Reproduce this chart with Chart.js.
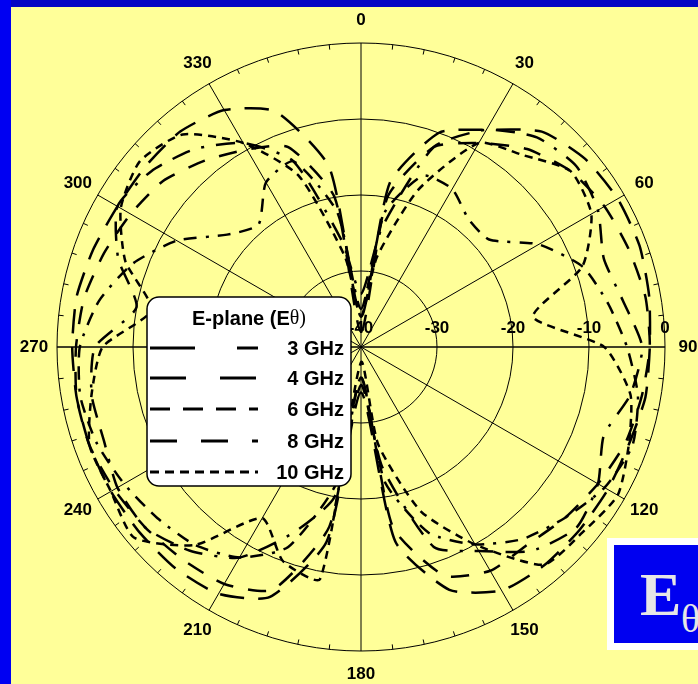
<!DOCTYPE html>
<html>
<head>
<meta charset="utf-8">
<script src="https://cdn.jsdelivr.net/npm/chart.js"></script>
<style>
  html, body { margin: 0; padding: 0; }
  body { width: 698px; height: 684px; background: #ffff99; position: relative; overflow: hidden; }
  #wrap { position: absolute; left: 0; top: 0; width: 698px; height: 684px; }
  #topBar { position: absolute; left: 0; top: 0; width: 698px; height: 7px; background: #0606c4; }
  #leftBar { position: absolute; left: 0; top: 0; width: 11px; height: 684px; background: #0000f2; }
  #tag { position: absolute; left: 607px; top: 538px; width: 100px; height: 112px; background: #fff; }
  #tagIn { position: absolute; left: 7px; top: 7px; width: 100px; height: 98px; background: #0000f0; }
  #tagE { position: absolute; left: 26px; top: 14px; font: bold 62px "Liberation Serif", serif; color: #e6e6e6; }
  #tagT { position: absolute; left: 67px; top: 50px; font: 40px "Liberation Serif", serif; color: #e6e6e6; }
</style>
</head>
<body>
<div id="wrap"><canvas id="polarE"></canvas></div>
<div id="topBar"></div>
<div id="leftBar"></div>
<div id="tag"><div id="tagIn"><span id="tagE">E</span><span id="tagT">θ</span></div></div>
<script>
let polarE = document.getElementById("polarE");

// theta in degrees, clockwise from the top
const angles = [0, 10, 20, 30, 40, 50, 60, 70, 80, 90, 100, 110, 120, 130, 140, 150, 160, 170,
                180, 190, 200, 210, 220, 230, 240, 250, 260, 270, 280, 290, 300, 310, 320, 330, 340, 350];
const radialTicks = [-40, -30, -20, -10, 0];
const angleTicks = [0, 30, 60, 90, 120, 150, 180, 210, 240, 270, 300, 330];

// relative gain (dB)
const ghz3 = [-36, -18, -10, -7, -3, -1.5, -1, -1, -1.5, -2, -2, -2.5, -2.5, -2.5, -2.5, -3, -6, -14,
              -34, -14, -5, -2.5, -2, -2, -2, -2, -2, -2, -2, -2.5, -3, -3, -3, -4, -7, -16];
const ghz4 = [-38, -20, -12, -9, -6, -4, -3, -2.5, -2, -2, -2.5, -3, -4, -5, -6, -6, -8, -16,
              -36, -16, -6, -4, -3.5, -3, -2.5, -2, -2, -2.5, -3, -4, -5, -6, -8, -10, -12, -20];
const ghz6 = [-35, -22, -16, -16, -18, -18, -13, -9, -7, -5, -3, -2, -3, -5, -7, -10, -14, -22,
              -36, -22, -12, -8, -6, -5, -4, -3, -2.5, -3, -5, -8, -12, -17, -19, -15, -14, -22];
const ghz8 = [-33, -24, -12, -7, -4, -3, -4, -6, -5, -3, -4, -6, -4, -3, -5, -9, -12, -24,
              -35, -20, -14, -8, -5, -3, -3, -4, -4, -5, -10, -6, -3, -4, -6, -9, -14, -26];
const ghz10 = [-36, -28, -18, -9, -7, -4, -5, -9, -17, -8, -4, -2.5, -1, -2, -2.6, -10, -17, -27,
               -38, -9, -10, -14, -6, -1, -2, -2, -4, -6, -12, -7, -3.5, -2, -3.5, -9, -16, -28];

const seriesNames = ['3 GHz', '4 GHz', '6 GHz', '8 GHz', '10 GHz'];

const dataPolar = {
  labels: angles,
  datasets: [
    { label: seriesNames[0], data: ghz3, borderDash: [24, 14] },
    { label: seriesNames[1], data: ghz4, borderDash: [18, 15] },
    { label: seriesNames[2], data: ghz6, borderDash: [13, 9, 13, 9, 3, 9] },
    { label: seriesNames[3], data: ghz8, borderDash: [19, 12, 19, 12, 3, 12] },
    { label: seriesNames[4], data: ghz10, borderDash: [8, 6] },
  ].map(d => Object.assign(d, {
    borderColor: '#000',
    borderWidth: 2.5,
    pointRadius: 0,
    fill: false,
    tension: 0.2,
  }))
};

// dash patterns of the samples in the key box
const legendDash = [[45, 42], [36, 34], [20, 13], [27, 24], [9, 6]];

const polarDecor = {
  id: 'polarDecor',
  beforeDatasetsDraw(chart) {
    const s = chart.scales.r;
    const ctx = chart.ctx;
    ctx.save();
    ctx.strokeStyle = '#000';
    ctx.lineWidth = 1;
    // small ticks on the outer circle every 6 degrees
    for (let a = 0; a < 360; a += 6) {
      if (a % 30 === 0) continue;
      const t = (a - 90) * Math.PI / 180;
      const r0 = s.drawingArea, r1 = s.drawingArea - 5;
      ctx.beginPath();
      ctx.moveTo(s.xCenter + r0 * Math.cos(t), s.yCenter + r0 * Math.sin(t));
      ctx.lineTo(s.xCenter + r1 * Math.cos(t), s.yCenter + r1 * Math.sin(t));
      ctx.stroke();
    }
    // horizontal axis line through 90 / 270
    ctx.beginPath();
    ctx.moveTo(s.xCenter - s.drawingArea, s.yCenter);
    ctx.lineTo(s.xCenter + s.drawingArea, s.yCenter);
    ctx.stroke();
    ctx.restore();
  },
  afterDraw(chart) {
    const s = chart.scales.r;
    const ctx = chart.ctx;
    ctx.save();
    ctx.fillStyle = '#000';
    ctx.textAlign = 'center';
    ctx.textBaseline = 'middle';
    ctx.font = 'bold 17px "Liberation Sans", Arial, sans-serif';
    angleTicks.forEach(a => {
      const p = s.getPointPosition(angles.indexOf(a), s.drawingArea + 23);
      ctx.fillText(String(a), p.x, p.y);
    });
    radialTicks.forEach(v => {
      ctx.fillText(String(v), s.xCenter + s.getDistanceFromCenterForValue(v), s.yCenter - 19);
    });

    // key box
    const bx = 147, by = 297, bw = 204, bh = 189;
    ctx.beginPath();
    ctx.roundRect(bx, by, bw, bh, 12);
    ctx.fillStyle = '#fff';
    ctx.fill();
    ctx.lineWidth = 1.5;
    ctx.strokeStyle = '#000';
    ctx.stroke();

    ctx.fillStyle = '#000';
    ctx.textBaseline = 'middle';
    ctx.textAlign = 'left';
    ctx.font = 'bold 20px "Liberation Sans", Arial, sans-serif';
    const t1 = 'E-plane (E';
    ctx.font = '20px "Liberation Serif", serif';
    const t2 = 'θ)';
    const w2 = ctx.measureText(t2).width;
    ctx.font = 'bold 20px "Liberation Sans", Arial, sans-serif';
    const w1 = ctx.measureText(t1).width;
    const tx = bx + bw / 2 - (w1 + w2) / 2;
    ctx.fillText(t1, tx, 319);
    ctx.font = '20px "Liberation Serif", serif';
    ctx.fillText(t2, tx + w1, 319);

    const rowY = [348, 378, 409, 441, 472];
    chart.data.datasets.forEach((d, i) => {
      ctx.beginPath();
      ctx.setLineDash(legendDash[i]);
      ctx.lineWidth = 3;
      ctx.moveTo(150, rowY[i]);
      ctx.lineTo(258, rowY[i]);
      ctx.stroke();
      ctx.setLineDash([]);
      ctx.textAlign = 'right';
      ctx.font = 'bold 20px "Liberation Sans", Arial, sans-serif';
      ctx.fillText(d.label, 344, rowY[i] + 1);
    });
    ctx.restore();
  }
};

const configPolar = {
  type: 'radar',
  data: dataPolar,
  options: {
    responsive: true,
    maintainAspectRatio: false,
    animation: false,
    layout: { padding: { left: 57, right: 33, top: 42, bottom: 32 } },
    plugins: {
      legend: { display: false },
      tooltip: { enabled: false }
    },
    scales: {
      r: {
        min: -40,
        max: 0,
        ticks: { display: false, stepSize: 10 },
        pointLabels: { display: false },
        grid: { circular: true, color: '#000', lineWidth: 1 },
        angleLines: {
          color: '#000',
          lineWidth: ctx => (angles[ctx.index] % 30 === 0 ? 1 : 0)
        }
      }
    }
  },
  plugins: [polarDecor]
};

let polarGraph = new Chart(polarE, configPolar);
</script>
</body>
</html>
